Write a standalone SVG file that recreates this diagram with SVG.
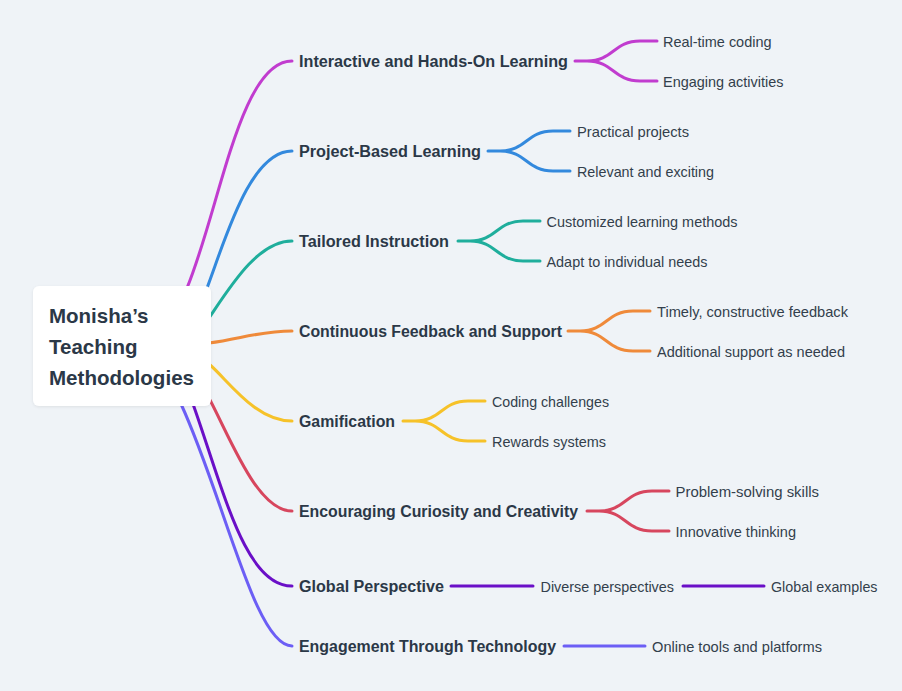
<svg xmlns="http://www.w3.org/2000/svg" width="902" height="691" viewBox="0 0 902 691">
<defs>
<style>
.bg{fill:#eff3f7}
.e{fill:none;stroke-width:3;stroke-linecap:round;stroke-linejoin:round}
.m{font-family:"Liberation Sans",Arial,sans-serif;font-weight:bold;font-size:16px;fill:#2b3847}
.c{font-family:"Liberation Sans",Arial,sans-serif;font-size:14.5px;fill:#333f4c}
.r{font-family:"Liberation Sans",Arial,sans-serif;font-weight:bold;font-size:20.5px;fill:#2b3847}
.p1{stroke:#c13ccf}.p2{stroke:#3389dd}.p3{stroke:#1fae9c}.p4{stroke:#ef8a3a}
.p5{stroke:#f6c229}.p6{stroke:#d7465e}.p7{stroke:#6a0fc7}.p8{stroke:#6c5ef5}
</style>
<filter id="sh" x="-10%" y="-10%" width="120%" height="130%">
<feDropShadow dx="0" dy="1" stdDeviation="1.5" flood-color="#000" flood-opacity="0.08"/>
</filter>
</defs>
<rect class="bg" x="0" y="0" width="902" height="691"/>
<g id="connectors">
<path class="e p1" d="M187,288 C220,208 240,61 292,61"/>
<path class="e p2" d="M207,288 C225.5,239 250,151 292,151"/>
<path class="e p3" d="M209,318 C230.6,286 258,241 292,241"/>
<path class="e p4" d="M209,343 C240,339 260,331 292,331"/>
<path class="e p5" d="M209,364 C228,380 255,421 292,421"/>
<path class="e p6" d="M210,400 C232,442 258,511 292,511"/>
<path class="e p7" d="M193,404 C223.7,490.6 245,586 292,586"/>
<path class="e p8" d="M181,404 C224,497 255,646 292,646"/>
<path class="e p1" d="M575,61 H587 C613.5,61 613.5,41 640,41 H657 M587,61 C613.5,61 613.5,81 640,81 H657"/>
<path class="e p2" d="M488,151 H500 C526.5,151 526.5,131 553,131 H570 M500,151 C526.5,151 526.5,171 553,171 H570"/>
<path class="e p3" d="M458,241 H470 C496.5,241 496.5,221 523,221 H540 M470,241 C496.5,241 496.5,261 523,261 H540"/>
<path class="e p4" d="M568,331 H580 C606.5,331 606.5,311 633,311 H650 M580,331 C606.5,331 606.5,351 633,351 H650"/>
<path class="e p5" d="M403,421 H415 C441.5,421 441.5,401 468,401 H485 M415,421 C441.5,421 441.5,441 468,441 H485"/>
<path class="e p6" d="M587,511 H599 C625.5,511 625.5,491 652,491 H669 M599,511 C625.5,511 625.5,531 652,531 H669"/>
<path class="e p7" d="M451,586 H533 M683,586 H764"/>
<path class="e p8" d="M564,646 H645"/>
</g>
<g id="root">
<rect x="33" y="286" width="178" height="120" rx="6" fill="#ffffff" filter="url(#sh)"/>
<text class="r" x="49" y="323">Monisha’s</text>
<text class="r" x="49" y="354">Teaching</text>
<text class="r" x="49" y="385" textLength="145" lengthAdjust="spacingAndGlyphs">Methodologies</text>
</g>
<g id="n1">
<text class="m" x="299" y="67" textLength="269" lengthAdjust="spacingAndGlyphs">Interactive and Hands-On Learning</text>
<text class="c" x="663" y="47" textLength="108.5" lengthAdjust="spacingAndGlyphs">Real-time coding</text>
<text class="c" x="663" y="87" textLength="120.5" lengthAdjust="spacingAndGlyphs">Engaging activities</text>
</g>
<g id="n2">
<text class="m" x="299" y="157" textLength="182" lengthAdjust="spacingAndGlyphs">Project-Based Learning</text>
<text class="c" x="577" y="137" textLength="112" lengthAdjust="spacingAndGlyphs">Practical projects</text>
<text class="c" x="577" y="177" textLength="137" lengthAdjust="spacingAndGlyphs">Relevant and exciting</text>
</g>
<g id="n3">
<text class="m" x="299" y="247" textLength="150" lengthAdjust="spacingAndGlyphs">Tailored Instruction</text>
<text class="c" x="546.5" y="227" textLength="191" lengthAdjust="spacingAndGlyphs">Customized learning methods</text>
<text class="c" x="546.5" y="267" textLength="161" lengthAdjust="spacingAndGlyphs">Adapt to individual needs</text>
</g>
<g id="n4">
<text class="m" x="299" y="337" textLength="263" lengthAdjust="spacingAndGlyphs">Continuous Feedback and Support</text>
<text class="c" x="657" y="317" textLength="191" lengthAdjust="spacingAndGlyphs">Timely, constructive feedback</text>
<text class="c" x="657" y="357" textLength="188" lengthAdjust="spacingAndGlyphs">Additional support as needed</text>
</g>
<g id="n5">
<text class="m" x="299" y="427" textLength="96" lengthAdjust="spacingAndGlyphs">Gamification</text>
<text class="c" x="492" y="407" textLength="117" lengthAdjust="spacingAndGlyphs">Coding challenges</text>
<text class="c" x="492" y="447" textLength="114" lengthAdjust="spacingAndGlyphs">Rewards systems</text>
</g>
<g id="n6">
<text class="m" x="299" y="517" textLength="279" lengthAdjust="spacingAndGlyphs">Encouraging Curiosity and Creativity</text>
<text class="c" x="675.5" y="497" textLength="143.5" lengthAdjust="spacingAndGlyphs">Problem-solving skills</text>
<text class="c" x="675.5" y="537" textLength="120.5" lengthAdjust="spacingAndGlyphs">Innovative thinking</text>
</g>
<g id="n7">
<text class="m" x="299" y="592" textLength="145" lengthAdjust="spacingAndGlyphs">Global Perspective</text>
<text class="c" x="540.5" y="592" textLength="133.5" lengthAdjust="spacingAndGlyphs">Diverse perspectives</text>
<text class="c" x="771" y="592" textLength="106.5" lengthAdjust="spacingAndGlyphs">Global examples</text>
</g>
<g id="n8">
<text class="m" x="299" y="652" textLength="257" lengthAdjust="spacingAndGlyphs">Engagement Through Technology</text>
<text class="c" x="652" y="652" textLength="170" lengthAdjust="spacingAndGlyphs">Online tools and platforms</text>
</g>
</svg>
